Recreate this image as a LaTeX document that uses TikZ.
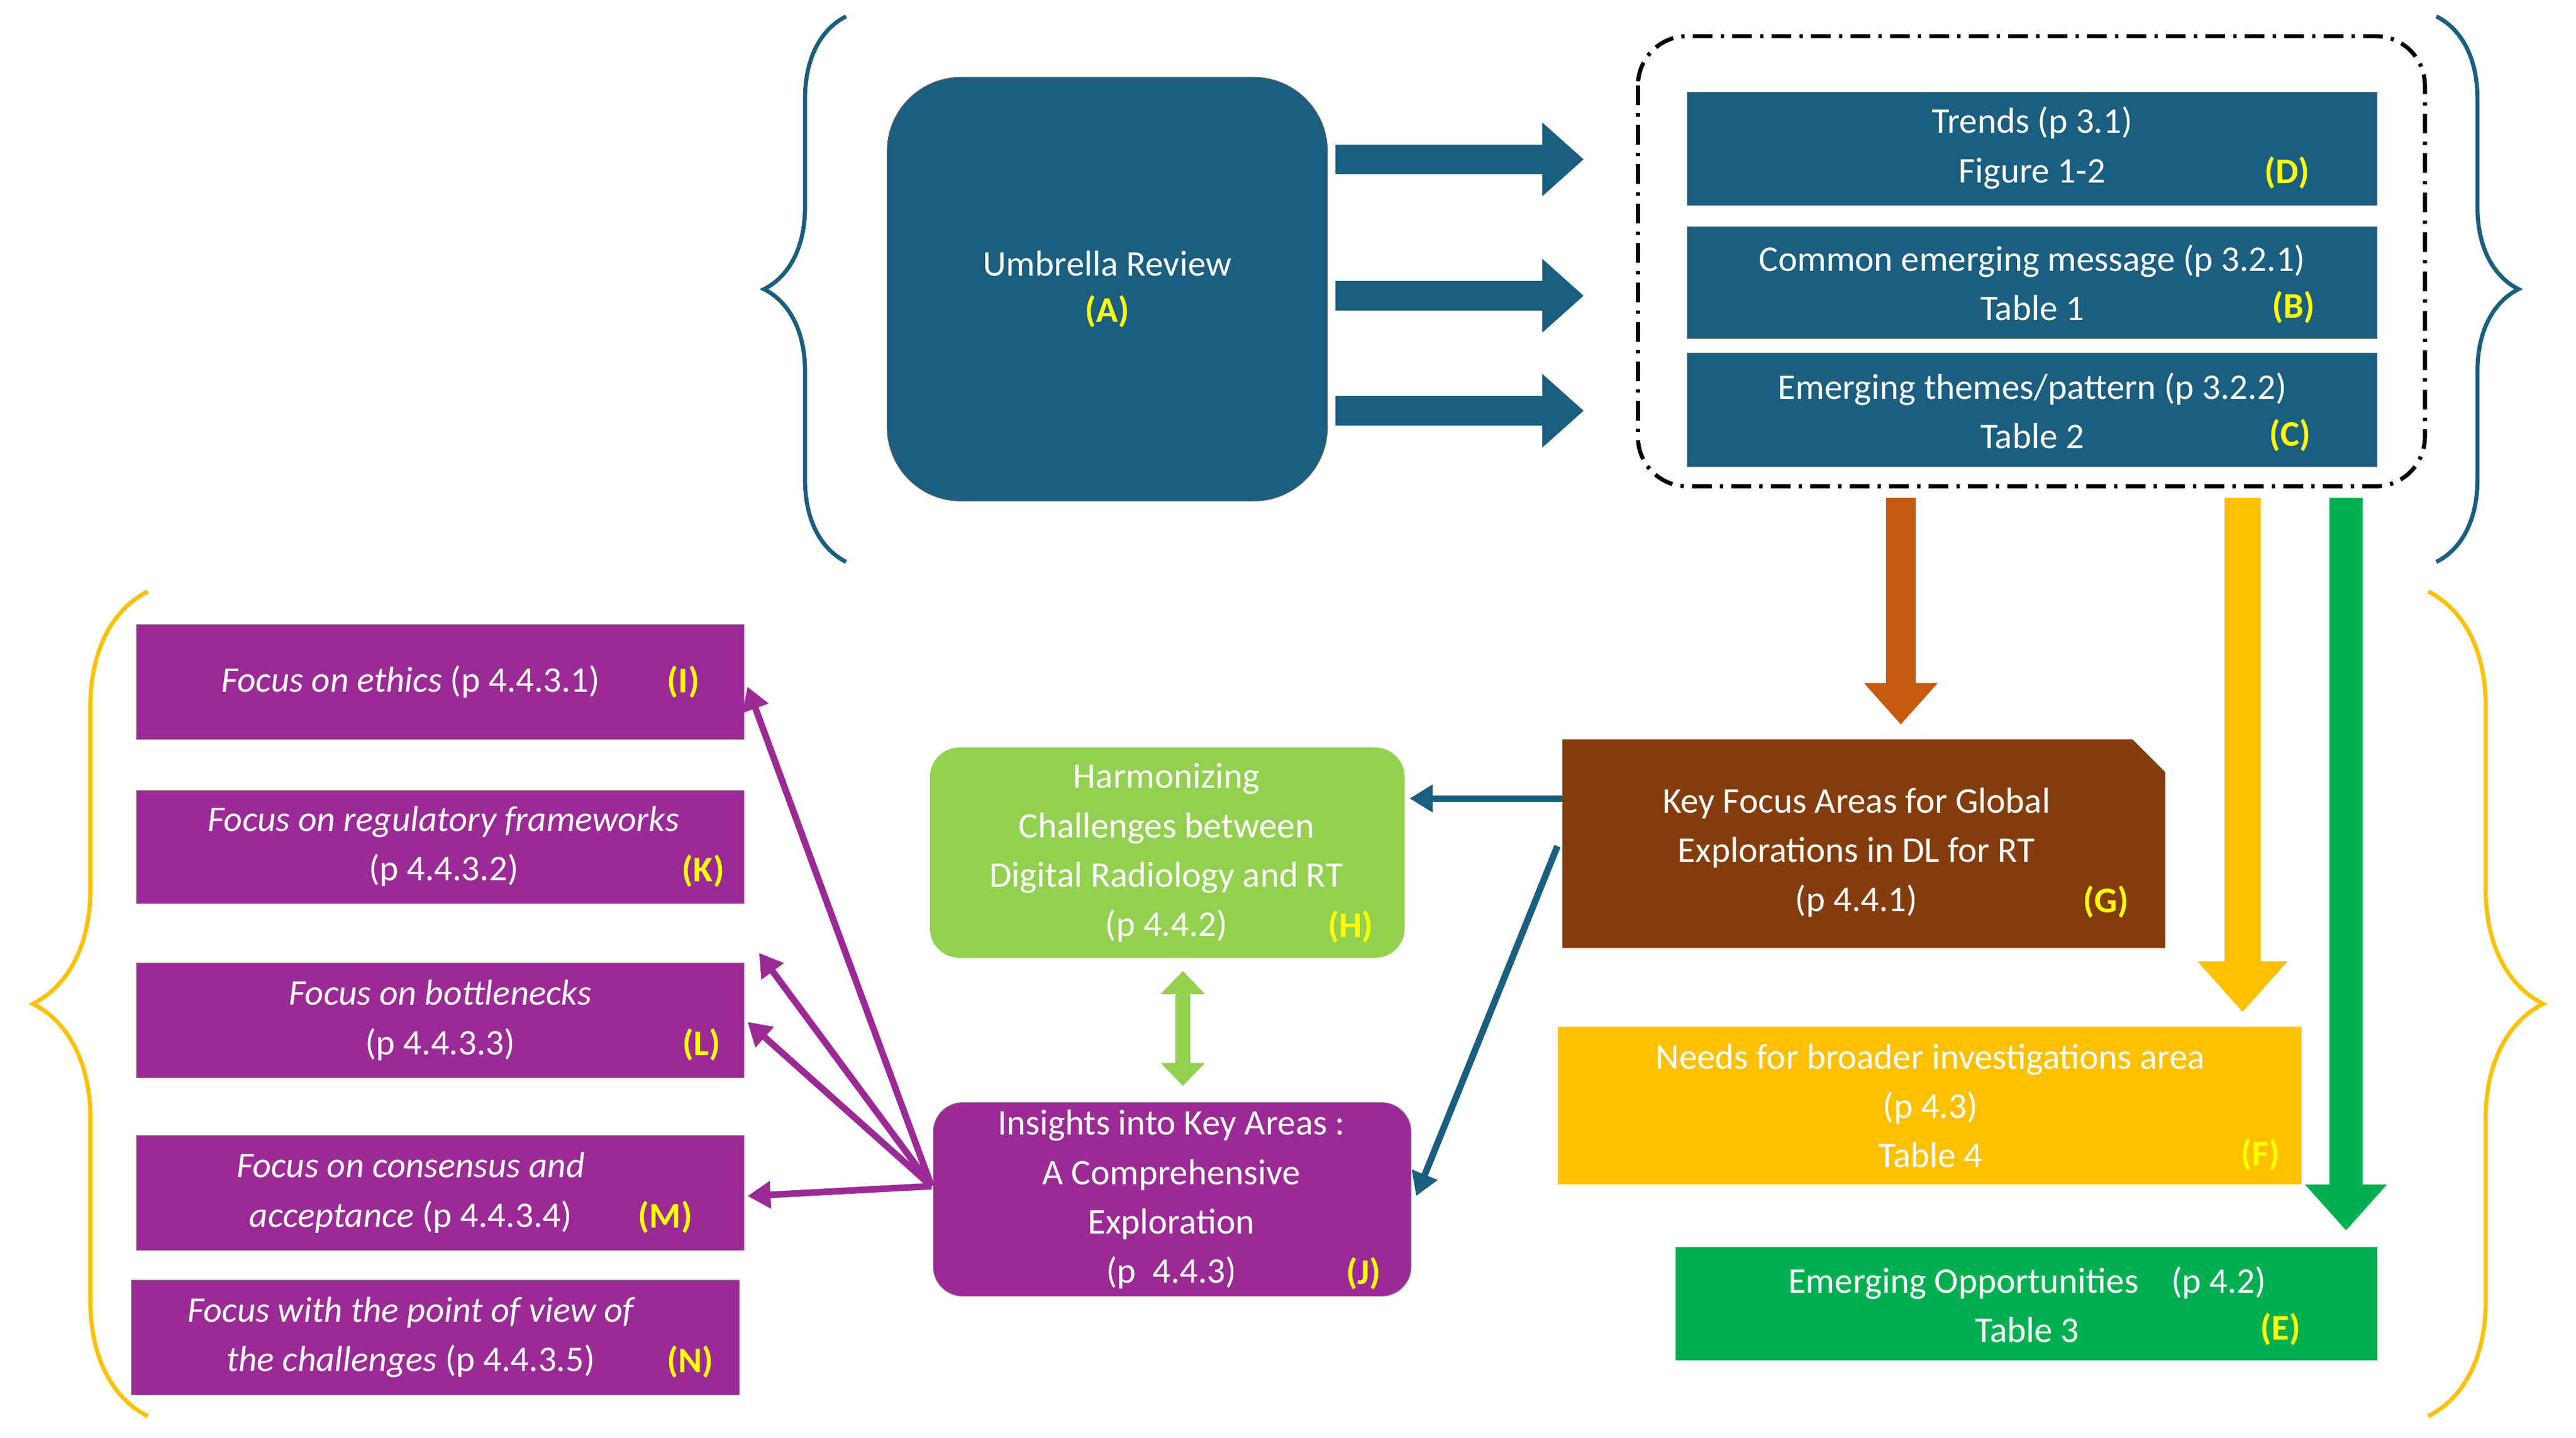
\documentclass[tikz,border=0pt]{standalone}
\usepackage{fontspec}
\setmainfont{Carlito}
\usetikzlibrary{decorations.pathreplacing,shapes.geometric,arrows.meta,calc}
\definecolor{teal}{RGB}{26,94,128}
\definecolor{purp}{RGB}{155,42,150}
\definecolor{lgreen}{RGB}{146,208,80}
\definecolor{brown}{RGB}{132,60,12}
\definecolor{orng}{RGB}{197,90,17}
\definecolor{yel}{RGB}{255,192,0}
\definecolor{grn}{RGB}{0,176,80}
\definecolor{lab}{RGB}{255,255,0}
\begin{document}
\begin{tikzpicture}[x=1pt,y=-1pt,
 txt/.style={font=\fontsize{22}{30}\selectfont,text=white,align=center},
 lbl/.style={font=\fontsize{22}{30}\selectfont\bfseries,text=lab},
 box/.style={draw=none},
 brace/.style={decorate,decoration={brace,amplitude=#1},line width=2.5pt},
 blk/.style={line width=#1, -{Triangle[length=1.4*#1,width=2.4*#1]}}]
\useasboundingbox (0,0) rectangle (1568,875);
% braces
\draw[teal,brace=50pt] (515,342) -- (515,10);
\draw[teal,brace=50pt] (1483,10) -- (1483,342);
\draw[yel,brace=70pt] (90,862) -- (90,360);
\draw[yel,brace=70pt] (1478,360) -- (1478,862);
% top part
\path[fill=teal,draw=black!60,rounded corners=45pt] (540,47) rectangle (808,305);
\node[txt] (A) at (674,176) {Umbrella Review\\[-2pt]\textcolor{lab}{\bfseries (A)}};
\draw[line width=2.5pt,dash pattern=on 12pt off 5pt on 2pt off 5pt,rounded corners=30pt] (997,22) rectangle (1476,296);
\coordinate (grp) at (1236,296);
\fill[teal,draw=black!50] (1027,56) rectangle (1447,125);
\node[txt] (D) at (1237,90) {Trends (p 3.1)\\Figure 1-2};
\node[lbl] at (1392,105) {(D)};
\fill[teal,draw=black!50] (1027,138) rectangle (1447,206);
\node[txt] (B) at (1237,172) {Common emerging message (p 3.2.1)\\Table 1};
\node[lbl] at (1396,187) {(B)};
\fill[teal,draw=black!50] (1027,215) rectangle (1447,284);
\node[txt] (C) at (1237,250) {Emerging themes/pattern (p 3.2.2)\\Table 2};
\node[lbl] at (1394,265) {(C)};
\coordinate (a1) at (813,97); \coordinate (d1) at (964,97);
\coordinate (a2) at (813,180); \coordinate (d2) at (964,180);
\coordinate (a3) at (813,250); \coordinate (d3) at (964,250);
\foreach \s/\e in {a1/d1,a2/d2,a3/d3} \draw[teal,blk=18pt] (\s) -- (\e);
% purple boxes
\tikzset{pbox/.style={fill=purp,draw=black!40}}
\fill[pbox] (83,380) rectangle (453,450);
\node[txt] (I) at (250,415) {\itshape Focus on ethics \upshape(p 4.4.3.1)};
\node[lbl] at (416,415) {(I)};
\fill[pbox] (83,481) rectangle (453,550);
\node[txt] (K) at (270,515) {\itshape Focus on regulatory frameworks\\\upshape(p 4.4.3.2)\hspace{120pt}};
\node[lbl] at (428,530) {(K)};
\fill[pbox] (83,586) rectangle (453,656);
\node[txt] (L) at (268,621) {\itshape Focus on bottlenecks\\\upshape(p 4.4.3.3)};
\node[lbl] at (427,636) {(L)};
\fill[pbox] (83,691) rectangle (453,761);
\node[txt] (M) at (250,726) {\itshape Focus on consensus and\\\itshape acceptance \upshape(p 4.4.3.4)};
\node[lbl] at (405,741) {(M)};
\fill[pbox] (80,779) rectangle (450,849);
\node[txt] (N) at (250,814) {\itshape Focus with the point of view of\\\itshape the challenges \upshape (p 4.4.3.5)\hspace{40pt}};
\node[lbl] at (420,829) {(N)};
% H and J
\fill[lgreen,rounded corners=18pt] (566,455) rectangle (855,583);
\node[txt] (H) at (710,519) {Harmonizing\\Challenges between\\Digital Radiology and RT\\(p 4.4.2)};
\node[lbl] at (822,564) {(H)};
\fill[purp,draw=black!40,rounded corners=18pt] (568,671) rectangle (859,789);
\node[txt] (J) at (713,730) {Insights into Key Areas :\\A Comprehensive\\Exploration\\(p\ \ 4.4.3)};
\node[lbl] at (830,775) {(J)};
% G
\fill[brown] (951,450) -- (1298,450) -- (1318,470) -- (1318,577) -- (951,577) -- cycle;
\node[txt] (G) at (1130,519) {Key Focus Areas for Global\\Explorations in DL for RT\\(p 4.4.1)};
\node[lbl] at (1282,549) {(G)};
% F, E
\fill[yel] (948,625) rectangle (1401,721);
\node[txt] (F) at (1175,673) {Needs for broader investigations area\\(p 4.3)\\Table 4};
\node[lbl] at (1376,703) {(F)};
\fill[grn] (1020,759) rectangle (1447,828);
\node[txt] (E) at (1234,794) {Emerging Opportunities\ \ \ \ (p 4.2)\\Table 3};
\node[lbl] at (1388,809) {(E)};
% vertical arrows
\coordinate (o1) at (1157,303); \coordinate (o2) at (1157,441);
\draw[orng,blk=18pt] (o1) -- (o2);
\coordinate (y1) at (1365,303); \coordinate (y2) at (1365,616);
\draw[yel,blk=22pt] (y1) -- (y2);
\coordinate (g1) at (1428,303); \coordinate (g2) at (1428,749);
\draw[grn,blk=20pt] (g1) -- (g2);
% double arrow H-J
\draw[lgreen,line width=9pt,{Triangle[length=14pt,width=26pt]}-{Triangle[length=14pt,width=26pt]}] (720,591) -- (720,661);
% teal arrows from G
\draw[teal,line width=4pt,-{Triangle[length=14pt,width=16pt]}] (951,486) -- (858,486);
\draw[teal,line width=4pt,-{Triangle[length=14pt,width=16pt]}] (948,515) -- (862,728);
% purple arrows
\coordinate (jl) at (567,722);
\foreach \t in {{(455,418)},{(462,580)},{(455,622)},{(455,728)}}
  \draw[purp,line width=4pt,-{Triangle[length=14pt,width=16pt]}] (jl) -- \t;
\end{tikzpicture}
\end{document}
